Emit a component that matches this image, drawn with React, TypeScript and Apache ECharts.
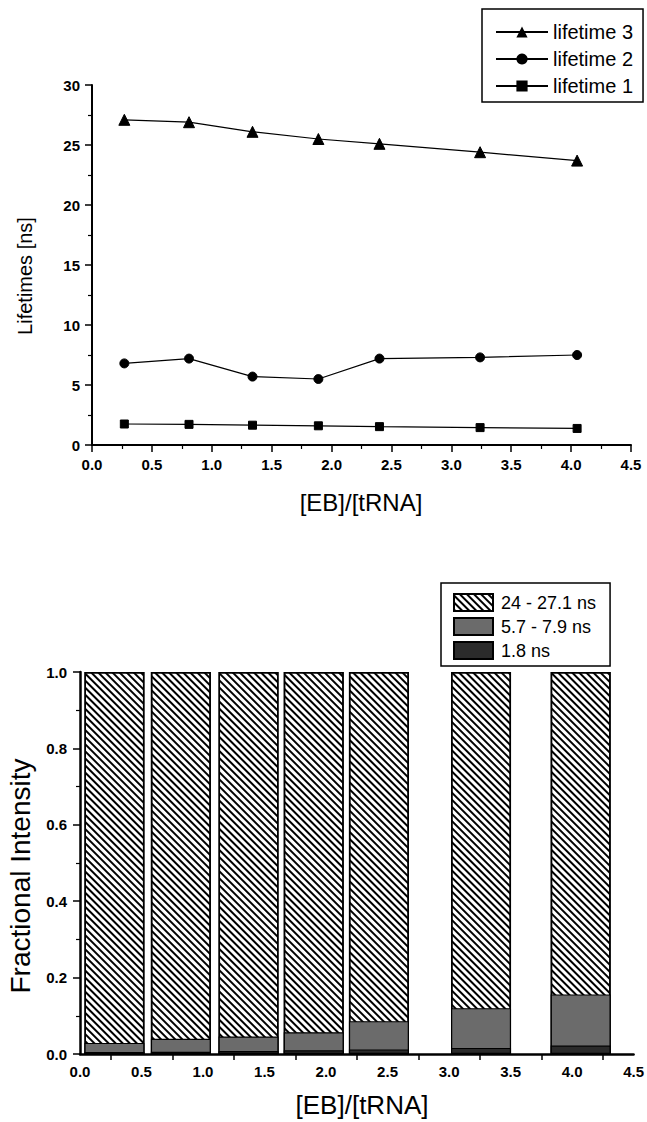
import React, { useEffect, useRef } from "react";
import * as echarts from "echarts";

// ---- Top chart data (lifetimes, ns) ----
const ratioTop = [0.27, 0.81, 1.34, 1.89, 2.4, 3.24, 4.05];
const lifetime3 = [27.1, 26.9, 26.1, 25.5, 25.1, 24.4, 23.7];
const lifetime2 = [6.8, 7.2, 5.7, 5.5, 7.2, 7.3, 7.5];
const lifetime1 = [1.75, 1.72, 1.65, 1.6, 1.53, 1.45, 1.38];

// ---- Bottom chart data (fractional intensity) ----
const ratioBars = [0.28, 0.82, 1.37, 1.9, 2.43, 3.26, 4.07];
const frac18 = [0.005, 0.006, 0.008, 0.01, 0.012, 0.016, 0.022];
const fracMid = [0.024, 0.034, 0.038, 0.047, 0.074, 0.104, 0.134];
const fracLong = [0.971, 0.96, 0.954, 0.943, 0.914, 0.88, 0.844];

const topNames = ["lifetime 3", "lifetime 2", "lifetime 1"];
const barNames = ["24 - 27.1 ns", "5.7 - 7.9 ns", "1.8 ns"];
const xTitle = "[EB]/[tRNA]";
const yTitleTop = "Lifetimes [ns]";
const yTitleBottom = "Fractional Intensity";

const FONT = '"Liberation Sans", Arial, Helvetica, sans-serif';

const pairs = (xs: number[], ys: number[]) => xs.map((x, i) => [x, ys[i]]);

export default function App() {
  const ref = useRef<HTMLDivElement>(null);

  useEffect(() => {
    if (!ref.current) return;
    const chart = echarts.init(ref.current, undefined, { renderer: "svg" });

    // stacked tops (bars are overlaid from the axis, largest drawn first)
    const cumMid = frac18.map((v, i) => v + fracMid[i]);
    const cumAll = cumMid.map((v, i) => v + fracLong[i]);

    const axisLineStyle = (w: number) => ({ show: true, lineStyle: { color: "#000", width: w } });
    const labelStyle = {
      color: "#000",
      fontSize: 15,
      fontWeight: "bold" as const,
      fontFamily: FONT,
    };

    const lineSeries = (name: string, data: number[], symbol: string, size: number) => ({
      name,
      type: "line",
      xAxisIndex: 0,
      yAxisIndex: 0,
      data: pairs(ratioTop, data),
      symbol,
      symbolSize: size,
      showSymbol: true,
      lineStyle: { color: "#000", width: 1.2 },
      itemStyle: { color: "#000", borderColor: "#000" },
    });

    const barBase = {
      type: "bar",
      xAxisIndex: 1,
      yAxisIndex: 1,
      barWidth: 60,
      barGap: "-100%",
    };

    chart.setOption({
      animation: false,
      backgroundColor: "#fff",
      textStyle: { fontFamily: FONT },
      grid: [
        { left: 92, top: 85, width: 539, height: 360 },
        { left: 80, top: 672, width: 554, height: 382 },
      ],
      xAxis: [
        {
          gridIndex: 0,
          type: "value",
          min: 0,
          max: 4.5,
          interval: 0.5,
          axisLine: axisLineStyle(2),
          axisTick: { show: true, length: 7, lineStyle: { color: "#000", width: 1.5 } },
          minorTick: { show: true, splitNumber: 2, length: 4, lineStyle: { color: "#000", width: 1.2 } },
          splitLine: { show: false },
          axisLabel: { ...labelStyle, margin: 12, formatter: (v: number) => v.toFixed(1) },
        },
        {
          gridIndex: 1,
          type: "value",
          min: 0,
          max: 4.5,
          interval: 0.5,
          axisLine: axisLineStyle(2.5),
          axisTick: { show: false },
          minorTick: { show: true, splitNumber: 2, length: 6, lineStyle: { color: "#000", width: 1.5 } },
          splitLine: { show: false },
          axisLabel: { ...labelStyle, margin: 10, formatter: (v: number) => v.toFixed(1) },
        },
      ],
      yAxis: [
        {
          gridIndex: 0,
          type: "value",
          min: 0,
          max: 30,
          interval: 5,
          axisLine: axisLineStyle(2),
          axisTick: { show: true, length: 7, lineStyle: { color: "#000", width: 1.5 } },
          minorTick: { show: true, splitNumber: 2, length: 4, lineStyle: { color: "#000", width: 1.2 } },
          splitLine: { show: false },
          axisLabel: { ...labelStyle, margin: 12 },
        },
        {
          gridIndex: 1,
          type: "value",
          min: 0,
          max: 1,
          interval: 0.2,
          axisLine: axisLineStyle(2.5),
          axisTick: { show: true, length: 7, lineStyle: { color: "#000", width: 1.5 } },
          minorTick: { show: true, splitNumber: 2, length: 4, lineStyle: { color: "#000", width: 1.2 } },
          splitLine: { show: false },
          axisLabel: { ...labelStyle, margin: 13, formatter: (v: number) => v.toFixed(1) },
        },
      ],
      legend: [
        {
          data: topNames,
          orient: "vertical",
          left: 482,
          top: 9,
          padding: [13, 10, 6, 13],
          itemWidth: 52,
          itemHeight: 14,
          itemGap: 7,
          borderColor: "#000",
          borderWidth: 1.5,
          backgroundColor: "#fff",
          textStyle: { fontSize: 20, color: "#000", fontFamily: FONT },
        },
        {
          data: barNames,
          orient: "vertical",
          left: 441,
          top: 583,
          padding: [10, 14, 6, 12],
          icon: "rect",
          itemWidth: 39,
          itemHeight: 17,
          itemGap: 5,
          borderColor: "#000",
          borderWidth: 1.5,
          backgroundColor: "#fff",
          textStyle: { fontSize: 18, color: "#000", fontFamily: FONT, padding: [0, 0, 0, 3] },
        },
      ],
      graphic: [
        {
          type: "text",
          x: 361,
          y: 502,
          style: { text: xTitle, font: `24px ${FONT}`, fill: "#000", align: "center", verticalAlign: "middle" },
        },
        {
          type: "text",
          x: 25,
          y: 276,
          rotation: Math.PI / 2,
          style: { text: yTitleTop, font: `20px ${FONT}`, fill: "#000", align: "center", verticalAlign: "middle" },
        },
        {
          type: "text",
          x: 362,
          y: 1105,
          style: { text: xTitle, font: `26px ${FONT}`, fill: "#000", align: "center", verticalAlign: "middle" },
        },
        {
          type: "text",
          x: 20,
          y: 876,
          rotation: Math.PI / 2,
          style: { text: yTitleBottom, font: `28px ${FONT}`, fill: "#000", align: "center", verticalAlign: "middle" },
        },
      ],
      series: [
        lineSeries(topNames[0], lifetime3, "triangle", 11),
        lineSeries(topNames[1], lifetime2, "circle", 9),
        lineSeries(topNames[2], lifetime1, "rect", 8),
        {
          ...barBase,
          name: barNames[0],
          data: pairs(ratioBars, cumAll),
          itemStyle: {
            color: "#fff",
            borderColor: "#000",
            borderWidth: 1.5,
            decal: {
              symbol: "rect",
              symbolSize: 1,
              dashArrayX: [1, 0],
              dashArrayY: [1.8, 3],
              rotation: Math.PI / 4,
              color: "#000",
            },
          },
        },
        {
          ...barBase,
          name: barNames[1],
          data: pairs(ratioBars, cumMid),
          itemStyle: { color: "#6b6b6b", borderColor: "#000", borderWidth: 1.2 },
        },
        {
          ...barBase,
          name: barNames[2],
          data: pairs(ratioBars, frac18),
          itemStyle: { color: "#2b2b2b", borderColor: "#000", borderWidth: 1.2 },
        },
      ],
    });

    return () => chart.dispose();
  }, []);

  return (
    <div
      ref={ref}
      style={{ position: "absolute", left: 0, top: 0, width: 647, height: 1122, background: "#fff" }}
    />
  );
}
